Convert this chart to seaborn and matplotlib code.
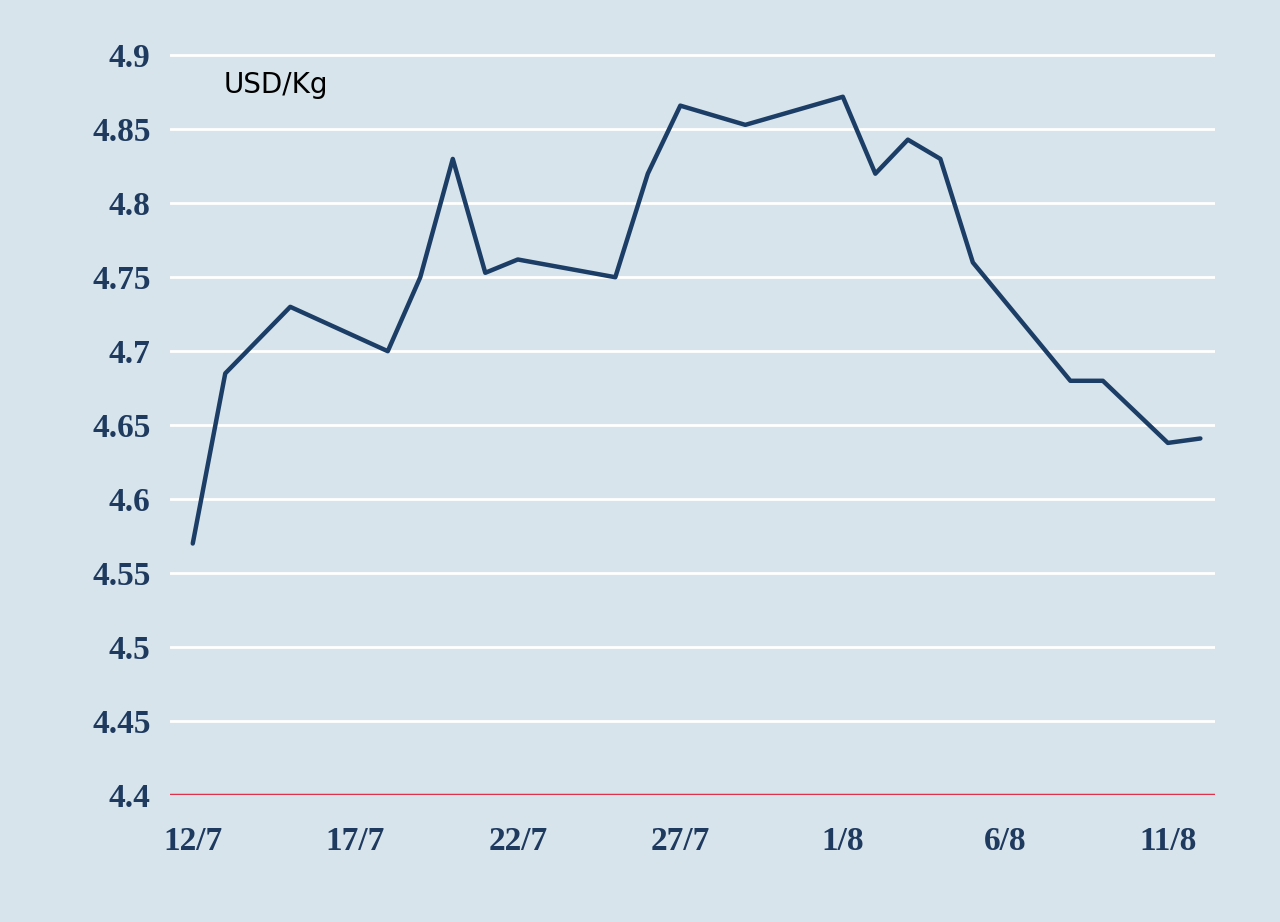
import matplotlib
matplotlib.use("Agg")
import matplotlib.pyplot as plt
import seaborn as sns
import pandas as pd

# day offsets from 12/7
days = [0, 1, 3, 6, 7, 8, 9, 10, 13, 14, 15, 17, 20, 21, 22, 23, 24, 27, 28, 30, 31]
prices = [4.57, 4.685, 4.73, 4.70, 4.75, 4.83, 4.753, 4.762, 4.75, 4.82, 4.866, 4.853,
          4.872, 4.82, 4.843, 4.83, 4.76, 4.68, 4.68, 4.638, 4.641]
tick_days = [0, 5, 10, 15, 20, 25, 30]
tick_labels = ["12/7", "17/7", "22/7", "27/7", "1/8", "6/8", "11/8"]
y_ticks = [4.4, 4.45, 4.5, 4.55, 4.6, 4.65, 4.7, 4.75, 4.8, 4.85, 4.9]

df = pd.DataFrame({"day": days, "price": prices})
bg = "#d7e4eb"
navy = "#1f3a5f"

sns.set_style("white")
fig = plt.figure(figsize=(12.8, 9.22), dpi=100, facecolor=bg)
ax = fig.add_axes([170 / 1280, 1 - 795 / 922, (1215 - 170) / 1280, (795 - 8) / 922])
ax.set_facecolor(bg)
for y in y_ticks[1:]:
    ax.axhline(y, color="white", lw=2, zorder=0)
ax.axhline(4.4, color="#e0304a", lw=2.5, zorder=1)
sns.lineplot(data=df, x="day", y="price", ax=ax, color="#1b3d66", lw=3.2)
ax.set_xlim(-0.7, 31.45)
ax.set_ylim(4.4, 4.932)
ax.set_xticks(tick_days)
ax.set_xticklabels(tick_labels)
ax.set_yticks(y_ticks)
ax.set_yticklabels([f"{v:g}" for v in y_ticks])
ax.tick_params(length=0, pad=22)
for lab in ax.get_xticklabels() + ax.get_yticklabels():
    lab.set_fontfamily("Liberation Serif")
    lab.set_fontweight("bold")
    lab.set_fontsize(24)
    lab.set_color(navy)
ax.tick_params(axis="y", pad=14)
ax.set_xlabel("")
ax.set_ylabel("")
for s in ax.spines.values():
    s.set_visible(False)
ax.text(0.95, 4.88, "USD/Kg", fontsize=20, color="black", va="center")
fig.savefig("out.png", dpi=100, facecolor=bg)
